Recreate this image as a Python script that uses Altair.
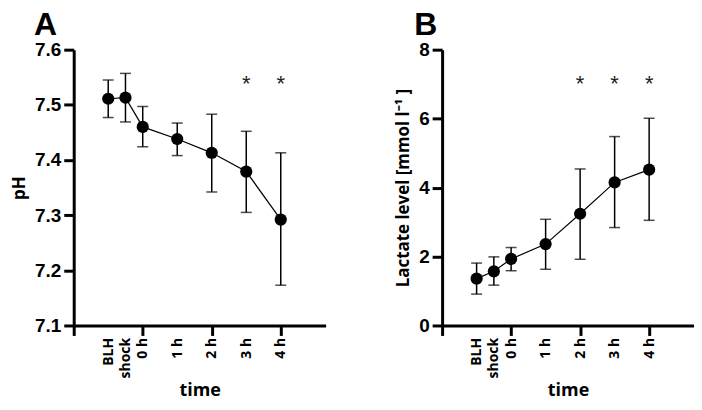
import altair as alt
import pandas as pd

# ---- data ----
times = [-1, -0.5, 0, 1, 2, 3, 4]
time_labels = ["BLH", "shock", "0 h", "1 h", "2 h", "3 h", "4 h"]

ph_mean = [7.511, 7.513, 7.460, 7.438, 7.413, 7.379, 7.292]
ph_upper = [7.545, 7.557, 7.497, 7.467, 7.483, 7.452, 7.413]
ph_lower = [7.477, 7.469, 7.424, 7.408, 7.342, 7.305, 7.173]
ph_star_times = [3, 4]
ph_star_level = 7.544

lac_mean = [1.36, 1.57, 1.93, 2.36, 3.24, 4.15, 4.52]
lac_upper = [1.81, 1.99, 2.26, 3.08, 4.54, 5.48, 6.01]
lac_lower = [0.91, 1.17, 1.59, 1.63, 1.92, 2.84, 3.05]
lac_star_times = [2, 3, 4]
lac_star_level = 7.1

x_domain = [-2, 5.3]
major_ticks = [-2, 0, 2, 4]
ph_ticks = [7.1, 7.2, 7.3, 7.4, 7.5, 7.6]
lac_ticks = [0, 2, 4, 6, 8]

# ---- axis helpers ----
label_expr = " : ".join(
    [f"datum.value == {t} ? '{l}'" for t, l in zip(times, time_labels)]
) + " : ''"
tick_test = " || ".join([f"datum.value == {t}" for t in major_ticks])

x_axis = alt.Axis(
    values=sorted(set(times + major_ticks)),
    labelExpr=label_expr,
    labelAngle=270,
    labelAlign="right",
    labelBaseline="middle",
    labelFont="Open Sans",
    labelFontWeight="bold",
    labelFontSize=14,
    labelPadding=2,
    labelOverlap=False,
    labelFlush=False,
    labelBound=False,
    grid=False,
    tickOpacity={"condition": {"test": tick_test, "value": 1}, "value": 0},
    title="time",
    titleFont="Open Sans",
    titleFontSize=18,
    titleFontWeight="bold",
    titlePadding=4,
)


def panel(mean, upper, lower, star_times, star_level, y_domain, y_ticks, y_fmt, y_title, letter, dx):
    df = pd.DataFrame({"t": times, "mean": mean, "upper": upper, "lower": lower})
    stars = pd.DataFrame({"t": star_times, "y": [star_level] * len(star_times)})

    xscale = alt.Scale(domain=x_domain, nice=False, zero=False)
    y_axis = alt.Axis(
        values=y_ticks,
        format=y_fmt,
        grid=False,
        labelFont="Liberation Sans",
        labelFontWeight="bold",
        labelFontSize=19,
        labelPadding=3,
        title=y_title,
        titleFont="Open Sans",
        titleFontSize=17,
        titleFontWeight="bold",
        titlePadding=6,
    )
    yscale = alt.Scale(domain=y_domain, nice=False, zero=False)

    def X():
        return alt.X("t:Q", scale=xscale, axis=x_axis)

    def Y(field):
        return alt.Y(f"{field}:Q", scale=yscale, axis=y_axis)

    base = alt.Chart(df)
    line = base.mark_line(color="black", strokeWidth=1.2).encode(x=X(), y=Y("mean"))
    rule = base.mark_rule(color="black", strokeWidth=1.5).encode(
        x=X(), y=Y("lower"), y2="upper:Q"
    )
    cap_hi = base.mark_tick(color="black", orient="horizontal", size=11, thickness=1.5).encode(
        x=X(), y=Y("upper")
    )
    cap_lo = base.mark_tick(color="black", orient="horizontal", size=11, thickness=1.5).encode(
        x=X(), y=Y("lower")
    )
    pts = base.mark_point(filled=True, color="black", size=150, opacity=1, shape="circle").encode(
        x=X(), y=Y("mean")
    )
    star = alt.Chart(stars).mark_text(
        text="*", fontSize=22, font="Liberation Sans", color="#222222", baseline="middle", dy=3
    ).encode(x=X(), y=Y("y"))

    return alt.layer(line, rule, cap_hi, cap_lo, pts, star).properties(
        width=253,
        height=277,
        title=alt.TitleParams(
            letter,
            anchor="start",
            frame="group",
            dx=dx,
            offset=-1,
            font="Liberation Sans",
            fontSize=32,
            fontWeight="bold",
            color="black",
        ),
    )


pa = panel(ph_mean, ph_upper, ph_lower, ph_star_times, ph_star_level,
           [7.1, 7.6], ph_ticks, ".1f", "pH", "A", -40)
pb = panel(lac_mean, lac_upper, lac_lower, lac_star_times, lac_star_level,
           [0, 8], lac_ticks, "d", "Lactate level [mmol l⁻¹ ]", "B", -28)

chart = alt.hconcat(pa, pb, spacing=69).properties(
    padding={"left": 2, "top": 0, "right": 0, "bottom": 0}, background="white"
).configure_view(
    stroke=None
).configure_axis(
    grid=False,
    domainColor="black",
    domainWidth=3,
    tickColor="black",
    tickWidth=3,
    tickSize=10,
    labelColor="black",
    titleColor="black",
)

chart.save("out.html", embed_options={"renderer": "svg", "actions": False})
